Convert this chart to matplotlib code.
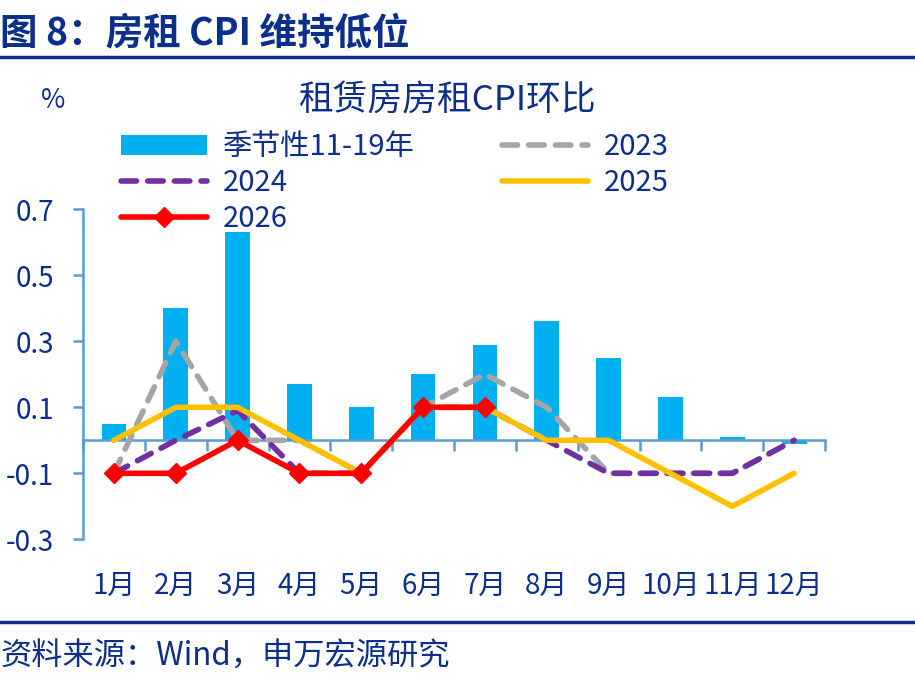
import numpy as np
import matplotlib
matplotlib.use("Agg")
import matplotlib.pyplot as plt
import matplotlib.transforms as mtransforms
from matplotlib.lines import Line2D

plt.rcParams['font.family'] = ['Noto Sans CJK SC', 'DejaVu Sans']

# 数据：租赁房房租CPI环比（%）
months = ["1月", "2月", "3月", "4月", "5月", "6月", "7月", "8月", "9月", "10月", "11月", "12月"]
seasonal = [0.05, 0.40, 0.63, 0.17, 0.10, 0.20, 0.29, 0.36, 0.25, 0.13, 0.01, -0.01]
y2023 = [-0.1, 0.3, 0.0, 0.0, -0.1, 0.1, 0.2, 0.1, -0.1, -0.1, -0.1, 0.0]
y2024 = [-0.1, 0.0, 0.09, -0.1, -0.1, 0.1, 0.1, 0.0, -0.1, -0.1, -0.1, 0.0]
y2025 = [0.0, 0.1, 0.1, 0.0, -0.1, 0.1, 0.1, 0.0, 0.0, -0.1, -0.2, -0.1]
y2026 = [-0.1, -0.1, 0.0, -0.1, -0.1, 0.1, 0.1]
yticks = [0.7, 0.5, 0.3, 0.1, -0.1, -0.3]

NAVY = "#0B2F8A"
AXC = "#5B9BD5"

fig = plt.figure(figsize=(9.15, 6.75), dpi=100)

# 标题和分隔线
fig.text(0.0, 0.952, "图 8：房租 CPI 维持低位", fontsize=27, fontweight="bold",
         color=NAVY, ha="left", va="center")
fig.add_artist(Line2D([0, 1], [0.915, 0.915], color=NAVY, linewidth=2.5))
fig.add_artist(Line2D([0, 1], [0.079, 0.079], color=NAVY, linewidth=2.5))
fig.text(0.0, 0.027, "资料来源：Wind，申万宏源研究", fontsize=22.5, color=NAVY,
         ha="left", va="center")

ax = fig.add_axes([0.0907, 0.201, 0.811, 0.489])
x = np.arange(1, 13)

ax.bar(x, seasonal, width=0.4, color="#00B0F0", label="季节性11-19年", zorder=2)
ax.plot(x, y2023, color="#A5A5A5", linewidth=4, linestyle=(0, (2.8, 2.0)),
        dash_capstyle="round", label="2023", zorder=3)
ax.plot(x, y2024, color="#7030A0", linewidth=4, linestyle=(0, (2.8, 2.0)),
        dash_capstyle="round", label="2024", zorder=4)
ax.plot(x, y2025, color="#FFC000", linewidth=4, solid_capstyle="round",
        label="2025", zorder=5)
ax.plot(x[:len(y2026)], y2026, color="#FF0000", linewidth=4, marker="D",
        markersize=10, solid_capstyle="round", label="2026", zorder=6)

ax.set_xlim(0.5, 12.5)
ax.set_ylim(-0.3, 0.7)
ax.set_yticks(yticks)
ax.set_yticklabels([f"{v:.1f}" for v in yticks], fontsize=20, color=NAVY)

for s in ["top", "right"]:
    ax.spines[s].set_visible(False)
ax.spines["left"].set_color(AXC)
ax.spines["left"].set_linewidth(1.8)
ax.spines["bottom"].set_position(("data", 0))
ax.spines["bottom"].set_color(AXC)
ax.spines["bottom"].set_linewidth(1.8)
ax.tick_params(axis="y", colors=AXC, length=7, width=1.8, labelcolor=NAVY, pad=14)
ax.set_xticks(np.arange(0.5, 13, 1))
ax.tick_params(axis="x", colors=AXC, length=8, width=1.8, direction="out",
               labelbottom=False)

# 月份标签放在图底部
trans = mtransforms.blended_transform_factory(ax.transData, ax.transAxes)
for xi, m in zip(x, months):
    ax.text(xi, -0.14, m, transform=trans, ha="center", va="center",
            fontsize=20, color=NAVY)

ax.text(-0.04, 1.33, "%", transform=ax.transAxes, ha="center", va="center",
        fontsize=19, color=NAVY)
ax.text(0.49, 1.33, "租赁房房租CPI环比", transform=ax.transAxes, ha="center",
        va="center", fontsize=25, color=NAVY)

handles, labels = ax.get_legend_handles_labels()
order = {l: h for h, l in zip(handles, labels)}
names = ["季节性11-19年", "2024", "2026", "2023", "2025"]
leg = ax.legend([order[n] for n in names], names, ncol=2, loc="upper left",
                bbox_to_anchor=(0.035, 1.268), frameon=False, fontsize=21,
                handlelength=2.95, handletextpad=0.55, columnspacing=3.0,
                labelspacing=0.2, borderaxespad=0)
for t in leg.get_texts():
    t.set_color(NAVY)

fig.savefig("out.png", dpi=100)
